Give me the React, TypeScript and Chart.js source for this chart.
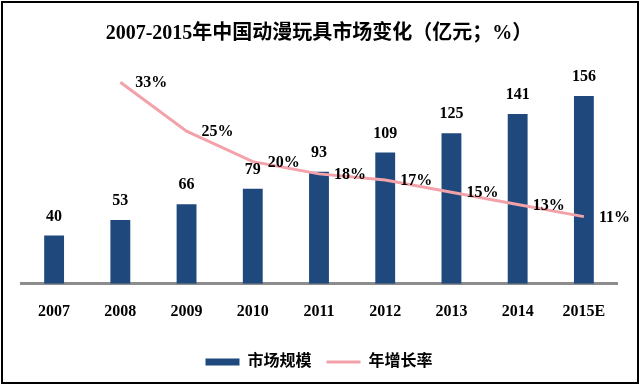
import { useEffect, useRef } from "react";
import { Chart, registerables } from "chart.js";

Chart.register(...registerables);

const titleText = "2007-2015年中国动漫玩具市场变化（亿元；%）";
const categories = ["2007", "2008", "2009", "2010", "2011", "2012", "2013", "2014", "2015E"];
const marketSize = [40, 53, 66, 79, 93, 109, 125, 141, 156];
const growthRate: (number | null)[] = [null, 33, 25, 20, 18, 17, 15, 13, 11];
const seriesNames = ["市场规模", "年增长率"];

const FAMILY = '"Liberation Serif", "Noto Sans CJK SC", serif';
const BAR_COLOR = "#1f497d";
const LINE_COLOR = "#f3a2aa";

const labelsPlugin = {
  id: "valueLabels",
  afterDatasetsDraw(chart: any) {
    const ctx = chart.ctx;
    ctx.save();
    ctx.fillStyle = "#000";
    ctx.font = `bold 16px ${FAMILY}`;
    const barMeta = chart.getDatasetMeta(0);
    ctx.textAlign = "center";
    ctx.textBaseline = "middle";
    barMeta.data.forEach((el: any, i: number) => {
      ctx.fillText(String(marketSize[i]), el.x, el.y - 19);
    });
    const lineMeta = chart.getDatasetMeta(1);
    ctx.textAlign = "left";
    lineMeta.data.forEach((el: any, i: number) => {
      const v = growthRate[i];
      if (v == null) return;
      ctx.fillText(`${v}%`, el.x + 15, el.y + 1);
    });
    ctx.restore();
  },
  afterDraw(chart: any) {
    const ctx = chart.ctx;
    ctx.save();
    ctx.strokeStyle = "#000";
    ctx.lineWidth = 2;
    ctx.strokeRect(2, 2, chart.width - 4, chart.height - 4);
    ctx.restore();
  },
};

export default function App() {
  const ref = useRef<HTMLCanvasElement>(null);
  useEffect(() => {
    document.body.style.margin = "0";
    const chart = new Chart(ref.current!, {
      type: "bar",
      data: {
        labels: categories,
        datasets: [
          {
            type: "bar",
            label: seriesNames[0],
            data: marketSize,
            backgroundColor: BAR_COLOR,
            borderWidth: 0,
            barPercentage: 0.3,
            categoryPercentage: 1,
            yAxisID: "y",
            order: 2,
            pointStyle: "rect",
          } as any,
          {
            type: "line",
            label: seriesNames[1],
            data: growthRate,
            borderColor: LINE_COLOR,
            backgroundColor: LINE_COLOR,
            borderWidth: 3,
            pointRadius: 0,
            pointStyle: "line",
            tension: 0,
            yAxisID: "y1",
            order: 1,
          } as any,
        ],
      },
      options: {
        responsive: false,
        animation: false,
        layout: { padding: { left: 21, right: 23, top: 6, bottom: 5 } },
        scales: {
          x: {
            grid: { display: false, drawTicks: false },
            border: { display: true, color: "#8c8c8c", width: 3 },
            ticks: {
              color: "#000",
              font: { family: FAMILY, size: 16, weight: "bold" },
              padding: 18,
              maxRotation: 0,
            },
          },
          y: { display: false, min: 0, max: 180 },
          y1: { display: false, min: 0, max: 35.5 },
        },
        plugins: {
          title: {
            display: true,
            text: titleText,
            color: "#000",
            font: { family: FAMILY, size: 20, weight: "bold" },
            padding: { top: 16, bottom: 21 },
          },
          legend: {
            position: "bottom",
            labels: {
              color: "#000",
              font: { family: FAMILY, size: 16, weight: "bold" },
              usePointStyle: true,
              pointStyleWidth: 34,
              boxHeight: 7,
              padding: 15,
              sort: (a: any, b: any) => a.datasetIndex - b.datasetIndex,
            },
          },
          tooltip: { enabled: false },
        },
      } as any,
      plugins: [labelsPlugin],
    });
    return () => chart.destroy();
  }, []);
  return (
    <div style={{ width: 640, height: 385, background: "#fff" }}>
      <canvas ref={ref} width={640} height={385} />
    </div>
  );
}
